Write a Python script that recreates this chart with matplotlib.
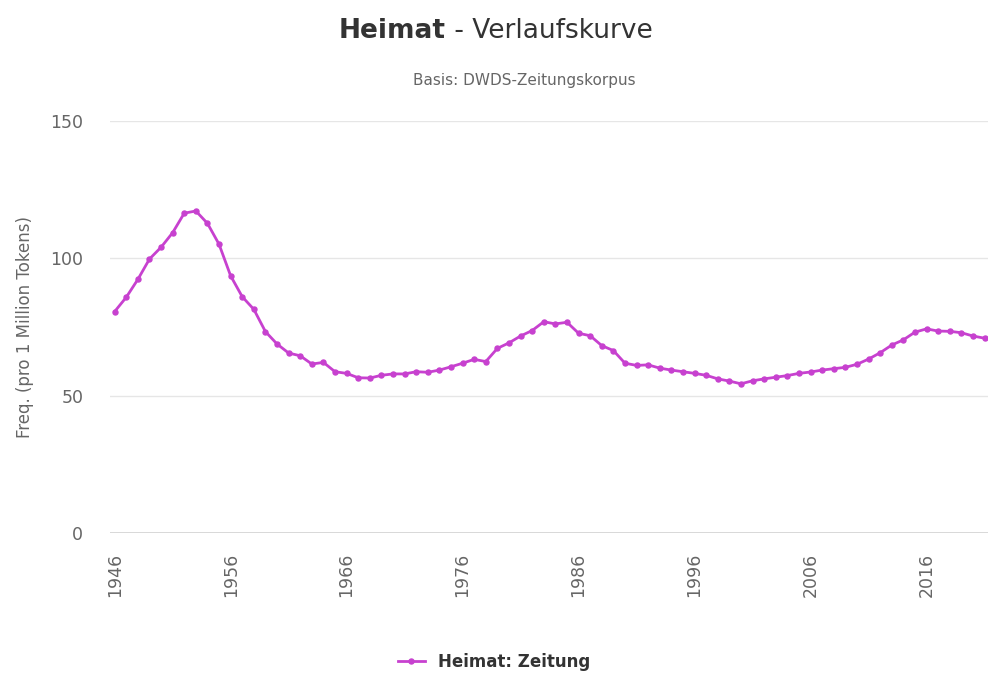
import numpy as np
import matplotlib.pyplot as plt

# Heimat frequency per year, DWDS newspaper corpus
years = list(range(1946, 2022))
freq = [80.6, 85.8, 92.3, 99.7, 104.0, 109.3, 116.4, 117.2, 112.7, 105.1,
        93.6, 86.0, 81.4, 73.3, 68.8, 65.5, 64.5, 61.5, 62.1, 58.7,
        58.1, 56.5, 56.4, 57.4, 57.9, 57.9, 58.7, 58.5, 59.3, 60.5,
        61.8, 63.2, 62.4, 67.2, 69.2, 71.7, 73.7, 76.9, 76.1, 76.7,
        72.7, 71.8, 68.2, 66.4, 61.8, 61.0, 61.2, 60.0, 59.3, 58.7,
        58.1, 57.4, 56.1, 55.3, 54.3, 55.4, 56.1, 56.7, 57.3, 58.1,
        58.6, 59.3, 59.8, 60.3, 61.4, 63.3, 65.6, 68.4, 70.3, 73.1,
        74.3, 73.5, 73.4, 72.9, 71.7, 70.9]
xticks = list(range(1946, 2021, 10))
yticks = [0, 50, 100, 150]

line_color = '#c741cf'

fig = plt.figure(figsize=(9.88, 6.79), dpi=100)
ax = fig.add_axes([0.111, 0.215, 0.889, 0.607])

ax.plot(years, freq, color=line_color, lw=2.0, marker='o', markersize=3.6,
        label='Heimat: Zeitung')

ax.set_xlim(1945.57, 2021.3)
ax.set_ylim(0, 150)
ax.set_yticks(yticks)
ax.set_xticks(xticks)
ax.set_xticklabels([str(x) for x in xticks], rotation=90)
ax.grid(axis='y', color='#e6e6e6', lw=1)
ax.set_axisbelow(True)
for s in ax.spines.values():
    s.set_visible(False)
ax.tick_params(axis='y', length=0, pad=19, labelsize=12.5, labelcolor='#666666')
ax.tick_params(axis='x', length=0, pad=14, labelsize=12.5, labelcolor='#666666')
ax.axhline(0, color='#d0d0d0', lw=1.2, zorder=0)

ax.set_ylabel('Freq. (pro 1 Million Tokens)', fontsize=12, color='#666666',
              labelpad=12)

# title: bold word + normal rest, centered together
fig.canvas.draw()
r = fig.canvas.get_renderer()
t1 = fig.text(0, 0.955, 'Heimat', fontsize=19, fontweight='bold',
              color='#333333', va='center')
t2 = fig.text(0, 0.955, ' - Verlaufskurve', fontsize=19, color='#333333',
              va='center')
w1 = t1.get_window_extent(r).width / fig.bbox.width
w2 = t2.get_window_extent(r).width / fig.bbox.width
x0 = 0.502 - (w1 + w2) / 2
t1.set_x(x0)
t2.set_x(x0 + w1)

fig.text(0.531, 0.882, 'Basis: DWDS-Zeitungskorpus', fontsize=11,
         color='#666666', ha='center', va='center')

leg = fig.legend(loc='center', bbox_to_anchor=(0.5, 0.025), frameon=False,
                 prop={'size': 12, 'weight': 'bold'}, handlelength=1.6)
for txt in leg.get_texts():
    txt.set_color('#333333')

fig.savefig('out.png', dpi=100)
